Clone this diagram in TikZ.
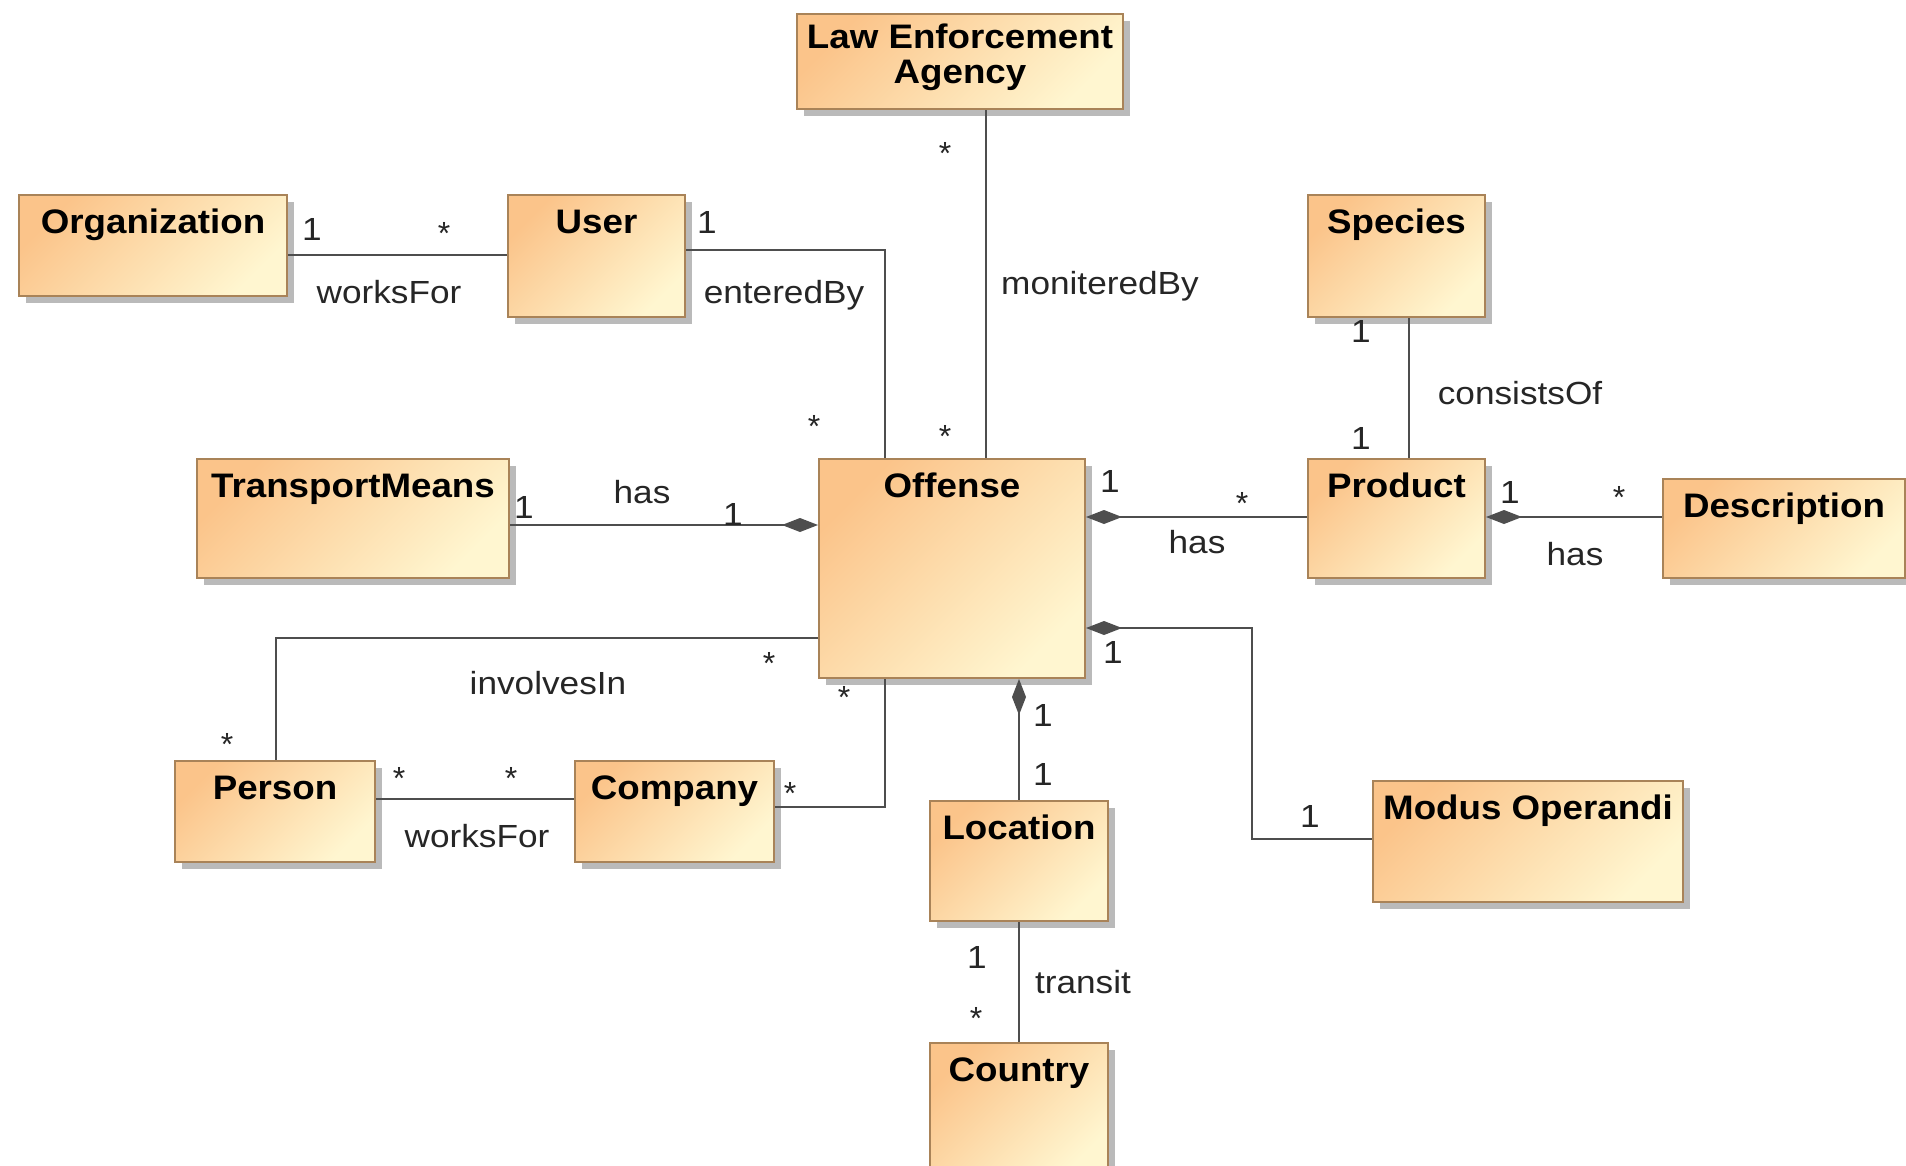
\documentclass[tikz,border=0pt]{standalone}
\usepackage{graphicx}
\usepackage{fontspec}
\setmainfont{Liberation Sans}
\usetikzlibrary{shadows,arrows.meta}
\definecolor{boxtop}{HTML}{FBC48A}
\definecolor{boxbot}{HTML}{FFF6D0}
\definecolor{boxline}{HTML}{A98358}
\definecolor{lnk}{HTML}{4E4E4E}
\tikzset{
  cls/.style={draw=boxline, line width=2pt, top color=boxtop, bottom color=boxbot,
    shading angle=45, inner sep=0pt, rectangle, anchor=north west,
    drop shadow={shadow xshift=7pt, shadow yshift=-7pt, fill=black!45, opacity=0.6}},
  ttl/.style={font=\fontsize{34}{36}\selectfont\bfseries, anchor=base, inner sep=0pt, text=black},
  lab/.style={font=\fontsize{32}{34}\selectfont, anchor=base, inner sep=0pt, text=black!85},
  assoc/.style={draw=lnk, line width=2.5pt},
  comp/.style={assoc, {Diamond[length=36pt,width=14pt,fill=lnk]}-},
}
\newcommand{\ttxt}[1]{\scalebox{1.08}[1]{#1}}
\newcommand{\ltxt}[1]{\scalebox{1.1}[1]{#1}}
% name, x1, y1, x2, y2, title
\newcommand{\umlbox}[6]{%
  \node[cls, minimum width={(#4-#2)*1pt}, minimum height={(#5-#3)*1pt}] (#1) at (#2,-#3) {};
  \node[ttl] (#1t) at ([yshift=-39pt]#1.north) {\ttxt{#6}};}
% name, x, y(center), text
\newcommand{\lb}[4]{\node[lab] (#1) at (#2,-#3-11) {\ltxt{#4}};}
\newcommand{\st}[3]{\node[lab] (#1) at (#2,-#3-18) {*};}
\begin{document}
\begin{tikzpicture}[x=1pt,y=1pt]
\useasboundingbox[fill=white] (0,0) rectangle (1906,-1165);

% boxes
\node[cls, minimum width=326pt, minimum height=95pt] (lea) at (796,-13) {};
\node[ttl] (leat1) at ([yshift=-35pt]lea.north) {\ttxt{Law Enforcement}};
\node[ttl] (leat2) at ([yshift=-70pt]lea.north) {\ttxt{Agency}};
\umlbox{org}{18}{194}{286}{295}{Organization}
\umlbox{usr}{507}{194}{684}{316}{User}
\umlbox{spc}{1307}{194}{1484}{316}{Species}
\umlbox{tm}{196}{458}{508}{577}{TransportMeans}
\umlbox{off}{818}{458}{1084}{677}{Offense}
\umlbox{prd}{1307}{458}{1484}{577}{Product}
\umlbox{dsc}{1662}{478}{1904}{577}{Description}
\umlbox{per}{174}{760}{374}{861}{Person}
\umlbox{cmp}{574}{760}{773}{861}{Company}
\umlbox{loc}{929}{800}{1107}{920}{Location}
\umlbox{mod}{1372}{780}{1682}{901}{Modus Operandi}
\umlbox{cty}{929}{1042}{1107}{1175}{Country}

% connectors
\draw[assoc] (org.east |- 0,-255) -- (usr.west |- 0,-255);
\draw[assoc] (usr.east |- 0,-250) -| (off.north -| 885,0);
\draw[assoc] (lea.south -| 986,0) -- (off.north -| 986,0);
\draw[comp] (off.west |- 0,-525) -- (tm.east |- 0,-525);
\draw[comp] (off.east |- 0,-517) -- (prd.west |- 0,-517);
\draw[assoc] (spc.south -| 1409,0) -- (prd.north -| 1409,0);
\draw[comp] (prd.east |- 0,-517) -- (dsc.west |- 0,-517);
\draw[assoc] (off.west |- 0,-638) -| (per.north -| 276,0);
\draw[assoc] (per.east |- 0,-799) -- (cmp.west |- 0,-799);
\draw[assoc] (off.south -| 885,0) |- (cmp.east |- 0,-807);
\draw[comp] (off.south -| 1019,0) -- (loc.north -| 1019,0);
\coordinate (mbend) at (1252,-839);
\draw[comp] (off.east |- 0,-628) -| (mbend) -- (mod.west |- mbend);
\draw[assoc] (loc.south -| 1019,0) -- (cty.north -| 1019,0);

% labels
\lb{l1}{312}{229}{1} \st{l2}{444}{226} \lb{l3}{389}{292}{worksFor}
\lb{l4}{707}{222}{1} \lb{l5}{784}{292}{enteredBy} \st{l6}{814}{419}
\st{l7}{945}{146} \lb{l8}{1100}{283}{moniteredBy} \st{l9}{945}{429}
\lb{l10}{524}{507}{1} \lb{l11}{642}{492}{has} \lb{l12}{733}{514}{1}
\lb{l13}{1110}{481}{1} \st{l14}{1242}{496} \lb{l15}{1197}{542}{has}
\lb{l16}{1361}{331}{1} \lb{l17}{1520}{393}{consistsOf} \lb{l18}{1361}{438}{1}
\lb{l19}{1510}{492}{1} \st{l20}{1619}{490} \lb{l21}{1575}{554}{has}
\st{l22}{769}{656} \lb{l23}{548}{683}{involvesIn} \st{l24}{227}{737}
\st{l25}{399}{771} \st{l26}{511}{771} \lb{l27}{477}{836}{worksFor}
\st{l28}{844}{690} \st{l29}{790}{786}
\lb{l30}{1043}{715}{1} \lb{l31}{1043}{774}{1}
\lb{l32}{1113}{652}{1} \lb{l33}{1310}{816}{1}
\lb{l34}{977}{957}{1} \st{l35}{976}{1011} \lb{l36}{1083}{982}{transit}
\end{tikzpicture}
\end{document}
